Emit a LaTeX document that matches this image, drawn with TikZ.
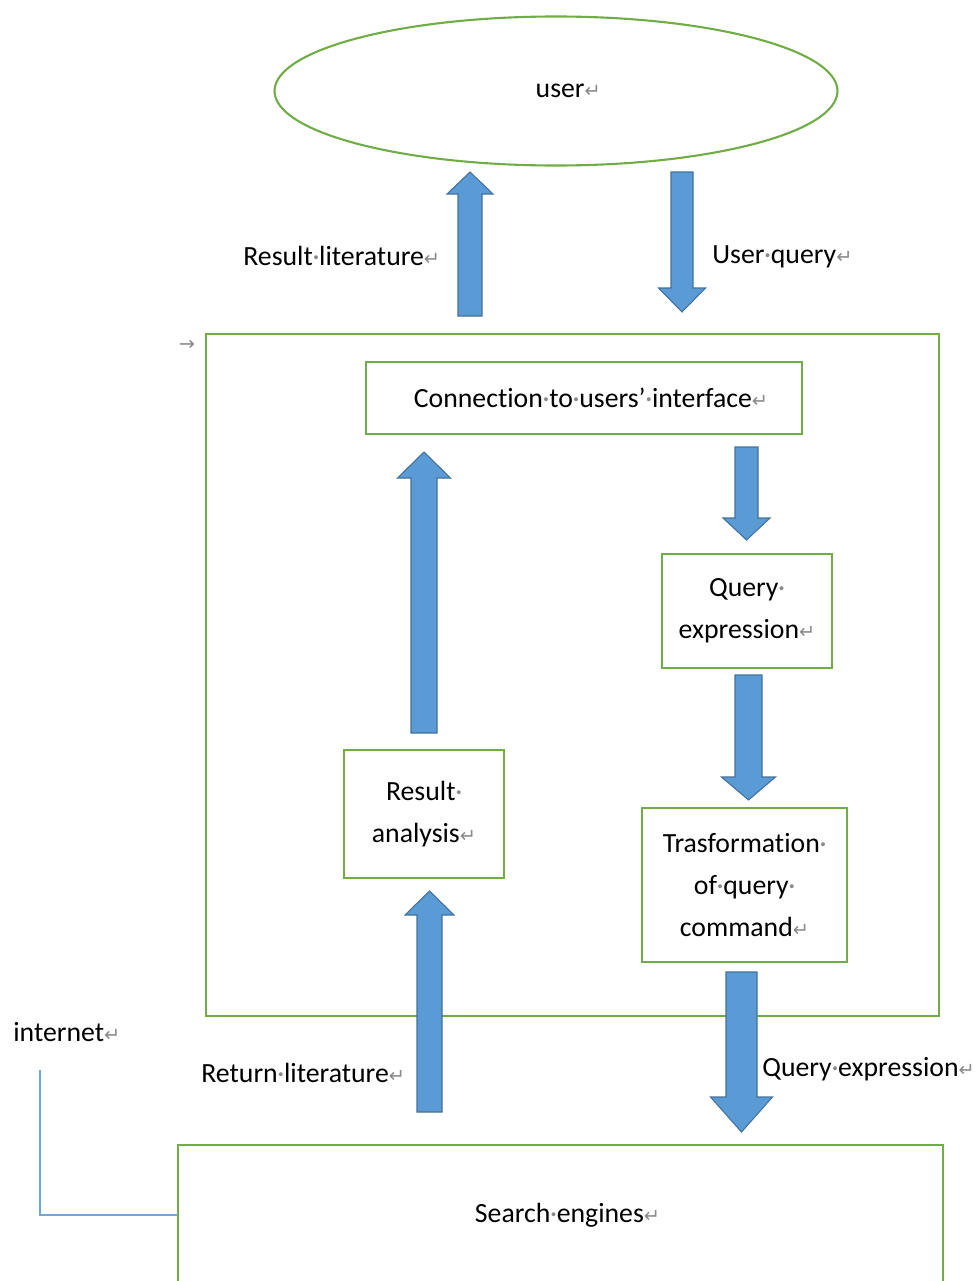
\documentclass[tikz,border=0pt]{standalone}
\usepackage{fontspec}
\setmainfont{Carlito}[Ligatures=NoCommon]
\newfontfamily\symfont{DejaVu Sans}
\usetikzlibrary{calc,shapes.geometric}
\definecolor{boxgreen}{HTML}{70AD47}
\definecolor{arrowblue}{HTML}{5B9BD5}
\definecolor{arrowedge}{HTML}{41719C}
\definecolor{netblue}{HTML}{6FA6DC}
\definecolor{markgray}{HTML}{8A8A8A}
\newcommand{\dotsp}{\makebox[0.23em]{\color{markgray}·}}
\newcommand{\ret}{{\color{markgray}\symfont\fontsize{11}{11}\selectfont ↵}}
\newcommand{\fatarrow}[5]{%
 \coordinate (hb) at ($(#2)!#5*0.02cm!(#1)$);
 \draw[blockarrow] ($(#1)!#3*0.02cm!90:(#2)$) -- ($(hb)!#3*0.02cm!90:(#2)$) -- ($(hb)!#4*0.02cm!90:(#2)$) -- (#2)
   -- ($(hb)!#4*0.02cm!-90:(#2)$) -- ($(hb)!#3*0.02cm!-90:(#2)$) -- ($(#1)!#3*0.02cm!-90:(#2)$) -- cycle;}
\tikzset{
 txt/.style={inner sep=0pt, font=\fontsize{15.8}{23.9}\selectfont, align=center},
 gbox/.style={txt, draw=boxgreen, line width=1.2pt},
 blockarrow/.style={fill=arrowblue, draw=arrowedge, line width=0.6pt, line join=miter},
 netline/.style={draw=netblue, line width=0.9pt}
}
\begin{document}
\begin{tikzpicture}[x=0.02cm, y=-0.02cm]
 \useasboundingbox (0,0) rectangle (977,1281);
 \node[gbox, ellipse, minimum width=563*0.02cm, minimum height=149*0.02cm] (user) at (556,91) {\hspace{14pt}user\ret};
 \node[gbox, minimum width=733*0.02cm, minimum height=682*0.02cm] (platform) at (572.5,675) {};
 \node[txt, text=markgray, font=\symfont\fontsize{11}{11}\selectfont] (tabmark) at (187,345) {→};
 \node[gbox, minimum width=436*0.02cm, minimum height=72*0.02cm] (conn) at (584,398) {\hspace{8pt}Connection\dotsp to\dotsp users’\dotsp interface\ret};
 \node[gbox, minimum width=170*0.02cm, minimum height=114*0.02cm] (expr) at (747,611) {Query\dotsp\\expression\ret};
 \node[gbox, minimum width=205*0.02cm, minimum height=154*0.02cm] (trans) at (744.5,885) {Trasformation\dotsp\\of\dotsp query\dotsp\\command\ret};
 \node[gbox, minimum width=160*0.02cm, minimum height=128*0.02cm] (result) at (424,814) {Result\dotsp\\analysis\ret};
 \node[gbox, minimum width=765*0.02cm, minimum height=140*0.02cm] (search) at (560.5,1215) {\hspace{8pt}Search\dotsp engines\ret};

 \node[txt, anchor=west] (litlabel) at (243,256) {Result\dotsp literature\ret};
 \node[txt, anchor=west] (querylabel) at (712,257) {User\dotsp query\ret};
 \node[txt, anchor=west] (returnlabel) at (201,1073) {Return\dotsp literature\ret};
 \node[txt, anchor=west] (exprlabel) at (762,1069) {Query\dotsp expression\ret};
 \node[txt, anchor=west] (internet) at (13,1032) {internet\ret};

 \coordinate (resultlit-s) at (470,316);   \coordinate (resultlit-e) at (470,172);
 \coordinate (userquery-s) at (682,172);   \coordinate (userquery-e) at (682,312);
 \coordinate (toexpr-s) at (746.5,447);    \coordinate (toexpr-e) at (746.5,540);
 \coordinate (totrans-s) at (748.5,675);   \coordinate (totrans-e) at (748.5,800);
 \coordinate (tosearch-s) at (741.5,972);  \coordinate (tosearch-e) at (741.5,1132);
 \coordinate (toconn-s) at (424,733);      \coordinate (toconn-e) at (424,452);
 \coordinate (toresult-s) at (429.5,1112); \coordinate (toresult-e) at (429.5,891);
 \fatarrow{resultlit-s}{resultlit-e}{12}{23}{22}
 \fatarrow{userquery-s}{userquery-e}{11}{23.5}{24}
 \fatarrow{toexpr-s}{toexpr-e}{11.5}{23.5}{22}
 \fatarrow{totrans-s}{totrans-e}{13.5}{27}{23}
 \fatarrow{tosearch-s}{tosearch-e}{15.5}{31}{35}
 \fatarrow{toconn-s}{toconn-e}{13}{26.5}{26}
 \fatarrow{toresult-s}{toresult-e}{12.5}{24.5}{24}

 \coordinate (nettop) at (40,1070);
 \draw[netline] (nettop) |- (search.west);
\end{tikzpicture}
\end{document}
